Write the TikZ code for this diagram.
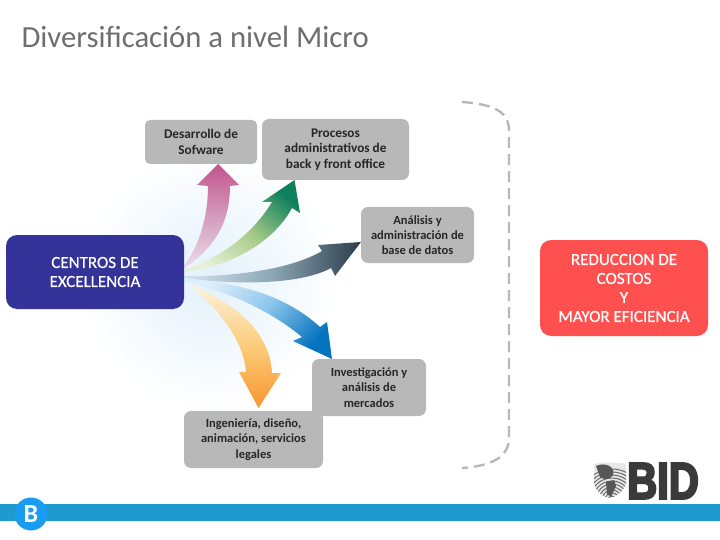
\documentclass[tikz,border=0pt]{standalone}
\usepackage{xcolor}
\usepackage{fontspec}
\usepackage{tikz}
\usetikzlibrary{positioning,backgrounds}
\setmainfont{Carlito}
\newfontfamily\logofont[FakeBold=4,FakeStretch=0.8]{Liberation Sans}
\newfontfamily\bigboxfont[FakeBold=0.5]{Carlito}
\definecolor{boxgrey}{HTML}{B8B8B8}
\definecolor{centroblue}{HTML}{333399}
\definecolor{redbox}{HTML}{FF5050}
\definecolor{barblue}{HTML}{1F9AD0}
\definecolor{circblue}{HTML}{1A9CF0}
\definecolor{titlegrey}{HTML}{6E6E6E}
\definecolor{logodark}{HTML}{3A3A3A}
\definecolor{glowblue}{HTML}{E3F1FB}
\tikzset{
    greybox/.style={fill=boxgrey, rounded corners=7pt, align=center, outer sep=0pt,
        inner sep=0pt, font=\fontsize{13.3}{15.6}\selectfont\bfseries, text=black!85},
    smallgreybox/.style={greybox, font=\fontsize{12.5}{15.3}\selectfont\bfseries},
    bigbox/.style={rounded corners=11pt, align=center, outer sep=0pt, inner sep=0pt,
        text=white, font=\bigboxfont\fontsize{17}{19}\selectfont},
    pinkarrow/.style={top color=pink1, bottom color=pink2, middle color=pink3},
    greenarrow/.style={top color=green1, bottom color=green2, middle color=green3, shading angle=-40},
    darkarrow/.style={right color=dark1, left color=dark2, middle color=dark3},
    bluearrow/.style={top color=blue2, bottom color=blue1, middle color=blue3, shading angle=50},
    orangearrow/.style={bottom color=orange1, top color=orange2, middle color=orange3},
}
\definecolor{pink1}{HTML}{C2558E}
\definecolor{pink2}{HTML}{EADCE8}
\definecolor{pink3}{HTML}{D49BBD}
\definecolor{green1}{HTML}{0F7F5C}
\definecolor{green2}{HTML}{E6F0D8}
\definecolor{green3}{HTML}{A6CB88}
\definecolor{dark1}{HTML}{2C3C4A}
\definecolor{dark2}{HTML}{D5E6F0}
\definecolor{dark3}{HTML}{8CA6B4}
\definecolor{blue1}{HTML}{0673BE}
\definecolor{blue2}{HTML}{DCEEFA}
\definecolor{blue3}{HTML}{8CC6EC}
\definecolor{orange1}{HTML}{F8952F}
\definecolor{orange2}{HTML}{FDF0D8}
\definecolor{orange3}{HTML}{FBCB78}
\begin{document}
\begin{tikzpicture}[x=1pt, y=-1pt]
    \useasboundingbox (0,0) rectangle (720,540);
    \node [anchor=west, text=titlegrey, font=\fontsize{30.7}{34}\selectfont] (title) at (18,37) {Diversificación a nivel Micro};
    % boxes
    \node [bigbox, fill=centroblue, minimum width=178pt, minimum height=74pt] (centros) at (95,272) {CENTROS DE\\EXCELLENCIA};
    \node [greybox, rounded corners=5pt, minimum width=112pt, minimum height=44pt, above right=71pt and -39pt of centros] (desarrollo) {Desarrollo de\\Sofware};
    \node [greybox, minimum width=147pt, minimum height=61pt, below right=-45pt and 5pt of desarrollo] (procesos) {Procesos\\administrativos de\\back y front office};
    \node [smallgreybox, minimum width=113pt, minimum height=56pt, below right=27pt and -48pt of procesos] (analisis) {Análisis y\\administración de\\base de datos};
    \node [smallgreybox, minimum width=114pt, minimum height=57pt, below left=96pt and -65pt of analisis] (investigacion) {Investigación y\\análisis de\\mercados};
    \node [smallgreybox, minimum width=139pt, minimum height=57pt, below left=-5pt and -11pt of investigacion] (ingenieria) {Ingeniería, diseño,\\animación, servicios\\legales};
    \node [bigbox, fill=redbox, minimum width=168pt, minimum height=96pt, below right=-69pt and 356pt of centros] (reduccion) {REDUCCION DE\\COSTOS\\Y\\MAYOR EFICIENCIA};
    % bracket
    \coordinate (bracktop) at (462,102);
    \coordinate (brackbot) at (462,468);
    \draw [boxgrey, line width=2.4pt, dash pattern=on 11pt off 6pt] (bracktop) .. controls (490,104) and (509,110) .. (509,130) -- (509,438) .. controls (509,458) and (490,466) .. (brackbot);
    % bottom bar
    \fill [barblue] (0,504) rectangle (720,521);
    \node [circle, fill=circblue, minimum size=33pt, inner sep=0pt, text=white, font=\fontsize{26}{26}\selectfont\bfseries] (bee) at (31,514) {B};
    % logo
    \node [anchor=west, inner sep=0pt, text=logodark, font=\logofont\fontsize{52}{52}\selectfont\bfseries] (bid) at (627,481) {BID};
    \begin{scope}
        \clip (594,464) .. controls (600,462) and (620,462) .. (626,464) -- (626,484) .. controls (622,494) and (612,498) .. (610,498) .. controls (606,498) and (597,494) .. (594,484) -- cycle;
        \fill [logodark!12] (590,460) rectangle (630,500);
        \foreach \r in {4,7,...,31} {
            \draw [logodark!75, line width=1pt] (612,500) circle (\r);
        }
        \fill [logodark!85] (596,466) .. controls (604,462) and (616,466) .. (613,475) .. controls (610,480) and (604,480) .. (600,477) -- cycle;
        \fill [logodark!85] (606,482) -- (614,480) -- (616,486) -- (611,497) -- (607,494) -- cycle;
    \end{scope}
    % arrows
    \begin{scope}[on background layer]
        \shade [inner color=glowblue, outer color=white] (210,280) circle (130);
        \shade [pinkarrow] ([yshift=6pt]centros.east) .. controls (200,245) and (208,215) .. (208,186) -- (197,185) -- ([xshift=17pt]desarrollo.south) -- (239,185) -- (230,186) .. controls (230,225) and (212,250) .. ([yshift=4pt]centros.east);
        \shade [greenarrow] ([yshift=2pt]centros.east) .. controls (220,258) and (252,235) .. (272,202) -- (262,202) -- ([xshift=-41pt]procesos.south) -- (300,213) -- (292,208) .. controls (272,245) and (225,268) .. ([yshift=0pt]centros.east);
        \shade [darkarrow] ([yshift=-4pt]centros.east) .. controls (230,277) and (290,270) .. (322,251) -- (318,245) -- ([yshift=-7pt]analisis.west) -- (335,276) -- (331,268) .. controls (300,285) and (235,285) .. ([yshift=-6pt]centros.east);
        \shade [bluearrow] ([yshift=-7pt]centros.east) .. controls (240,283) and (285,295) .. (320,327) -- (327,322) -- ([xshift=-37pt]investigacion.north) -- (293,341) -- (302,337) .. controls (275,315) and (240,295) .. ([yshift=-9pt]centros.east);
        \shade [orangearrow] ([yshift=-14pt,xshift=8pt]centros.east) .. controls (240,305) and (270,335) .. (272,373) -- (281,373) -- ([xshift=5pt,yshift=3pt]ingenieria.north) -- (239,372) -- (246,372) .. controls (244,345) and (225,315) .. ([yshift=-15pt,xshift=8pt]centros.east);
    \end{scope}
\end{tikzpicture}
\end{document}
